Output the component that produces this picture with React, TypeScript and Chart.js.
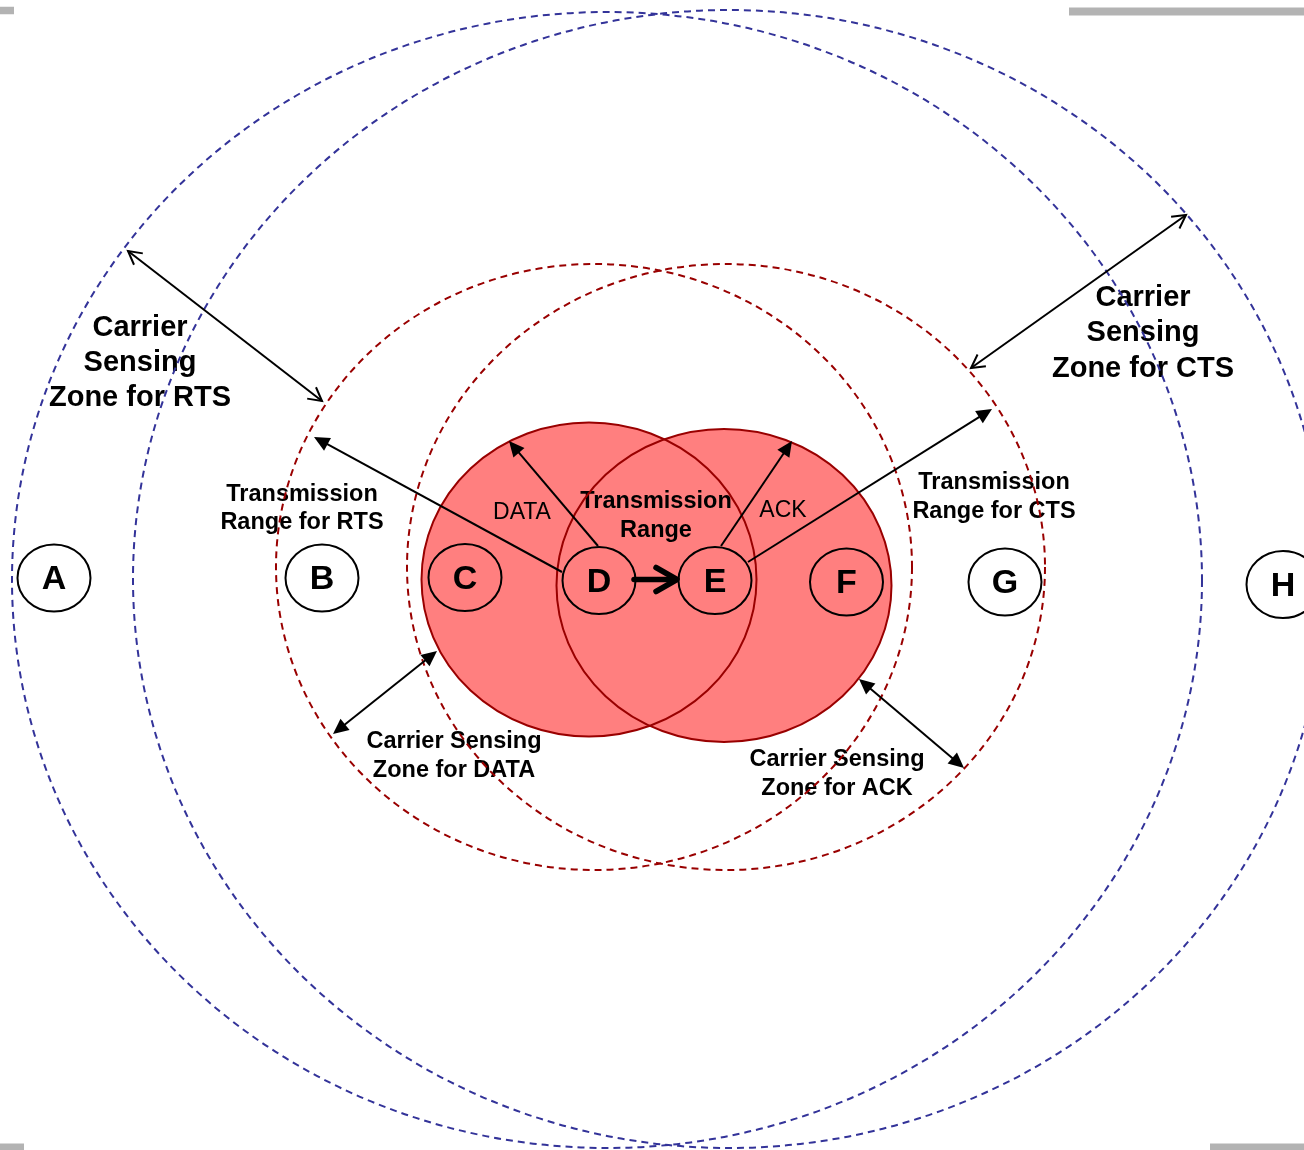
import React, { useEffect, useRef } from "react";
import { Chart, registerables } from "chart.js";

Chart.register(...registerables);

// ---- data (diagram coordinates, y grows downward) ----
const zoneNames = ["CS zone RTS", "CS zone CTS", "CS zone DATA", "CS zone ACK"];
const zoneCx = [607, 729, 594, 726];
const zoneCy = [580, 579, 567, 567];
const zoneRx = [595, 596, 318, 319];
const zoneRy = [568, 569, 303, 303];
const zoneColor = ["#333399", "#333399", "#990000", "#990000"];

const rangeNames = ["Range D", "Range E"];
const rangeCx = [589, 724];
const rangeCy = [579.5, 585.5];
const rangeRx = [167.5, 167.5];
const rangeRy = [157, 156.5];

const nodeLabels = ["A", "B", "C", "D", "E", "F", "G", "H"];
const nodeX = [54, 322, 465, 599, 715, 846.5, 1005, 1283];
const nodeY = [578, 578, 577.5, 580.5, 580.5, 582, 582, 584.5];
const nodeRx = 36.5;
const nodeRy = 33.5;

// arrows: start, end, head at start / end ("open" | "filled" | "")
const arrowX1 = [322, 971, 562, 598, 721, 748, 333, 964];
const arrowY1 = [401, 368, 572, 546, 546, 562, 734, 768];
const arrowX2 = [128, 1186, 314, 509, 792, 992, 437, 859];
const arrowY2 = [251, 215, 437, 441, 441, 409, 651, 679];
const arrowHead1 = ["open", "open", "", "", "", "", "filled", "filled"];
const arrowHead2 = ["open", "open", "filled", "filled", "filled", "filled", "filled", "filled"];

const textLines = [
  "Carrier", "Sensing", "Zone for RTS",
  "Carrier", "Sensing", "Zone for CTS",
  "Transmission", "Range for RTS",
  "Transmission", "Range for CTS",
  "Transmission", "Range",
  "DATA", "ACK",
  "Carrier Sensing", "Zone for DATA",
  "Carrier Sensing", "Zone for ACK",
];
const textX = [140, 140, 140, 1143, 1143, 1143, 302, 302, 994, 994, 656, 656, 522, 783, 454, 454, 837, 837];
const textY = [328, 363, 398, 298, 333, 369, 495, 523, 483, 512, 502, 531, 513, 511, 742, 771, 760, 789];
const textSize = [29, 29, 29, 29, 29, 29, 23.5, 23.5, 23.5, 23.5, 23.5, 23.5, 23, 23, 23.5, 23.5, 23.5, 23.5];
const textBold = [1, 1, 1, 1, 1, 1, 1, 1, 1, 1, 1, 1, 0, 0, 1, 1, 1, 1];

const barX1 = [0, 1069, 0, 1210];
const barX2 = [14, 1304, 24, 1304];
const barY = [10.5, 11.5, 1147, 1147];
const barH = [7.5, 8, 7, 7];

const FONT = '"Liberation Sans", Arial, Helvetica, sans-serif';

const diagramPlugin = {
  id: "diagram",
  afterDatasetsDraw(chart: any) {
    const ctx: CanvasRenderingContext2D = chart.ctx;
    const xs = chart.scales.x;
    const ys = chart.scales.y;
    const px = (v: number) => xs.getPixelForValue(v);
    const py = (v: number) => ys.getPixelForValue(v);
    const rx = (cx: number, r: number) => Math.abs(px(cx + r) - px(cx));
    const ry = (cy: number, r: number) => Math.abs(py(cy + r) - py(cy));

    ctx.save();

    // gray bars
    ctx.fillStyle = "#b3b3b3";
    for (let i = 0; i < barX1.length; i++) {
      const h = ry(barY[i], barH[i]);
      ctx.fillRect(px(barX1[i]), py(barY[i]) - h / 2, px(barX2[i]) - px(barX1[i]), h);
    }

    // filled transmission ranges
    ctx.fillStyle = "#ff7f7f";
    for (let i = 0; i < rangeCx.length; i++) {
      ctx.beginPath();
      ctx.ellipse(px(rangeCx[i]), py(rangeCy[i]), rx(rangeCx[i], rangeRx[i]), ry(rangeCy[i], rangeRy[i]), 0, 0, Math.PI * 2);
      ctx.fill();
    }

    // texts
    ctx.fillStyle = "#000";
    ctx.textAlign = "center";
    ctx.textBaseline = "middle";
    for (let i = 0; i < textLines.length; i++) {
      ctx.font = `${textBold[i] ? "bold " : ""}${textSize[i]}px ${FONT}`;
      ctx.fillText(textLines[i], px(textX[i]), py(textY[i]));
    }

    // range outlines
    ctx.strokeStyle = "#990000";
    ctx.lineWidth = 2;
    ctx.setLineDash([]);
    for (let i = 0; i < rangeCx.length; i++) {
      ctx.beginPath();
      ctx.ellipse(px(rangeCx[i]), py(rangeCy[i]), rx(rangeCx[i], rangeRx[i]), ry(rangeCy[i], rangeRy[i]), 0, 0, Math.PI * 2);
      ctx.stroke();
    }

    // dashed carrier sensing zones
    ctx.lineWidth = 2;
    ctx.setLineDash([7, 5]);
    for (let i = 0; i < zoneCx.length; i++) {
      ctx.strokeStyle = zoneColor[i];
      ctx.beginPath();
      ctx.ellipse(px(zoneCx[i]), py(zoneCy[i]), rx(zoneCx[i], zoneRx[i]), ry(zoneCy[i], zoneRy[i]), 0, 0, Math.PI * 2);
      ctx.stroke();
    }
    ctx.setLineDash([]);

    // nodes
    ctx.strokeStyle = "#000";
    ctx.lineWidth = 2;
    for (let i = 0; i < nodeLabels.length; i++) {
      ctx.beginPath();
      ctx.ellipse(px(nodeX[i]), py(nodeY[i]), rx(nodeX[i], nodeRx), ry(nodeY[i], nodeRy), 0, 0, Math.PI * 2);
      ctx.stroke();
      ctx.font = `bold 34px ${FONT}`;
      ctx.fillStyle = "#000";
      ctx.fillText(nodeLabels[i], px(nodeX[i]), py(nodeY[i]) + 2);
    }

    // arrow heads helper
    const head = (tx: number, ty: number, fx: number, fy: number, kind: string) => {
      if (!kind) return;
      const ang = Math.atan2(ty - fy, tx - fx);
      const len = kind === "filled" ? 17 : 15;
      const spread = kind === "filled" ? 0.44 : 0.5;
      const ax = tx - len * Math.cos(ang - spread);
      const ay = ty - len * Math.sin(ang - spread);
      const bx = tx - len * Math.cos(ang + spread);
      const by = ty - len * Math.sin(ang + spread);
      ctx.beginPath();
      if (kind === "filled") {
        ctx.moveTo(tx, ty);
        ctx.lineTo(ax, ay);
        ctx.lineTo(bx, by);
        ctx.closePath();
        ctx.fill();
      } else {
        ctx.moveTo(ax, ay);
        ctx.lineTo(tx, ty);
        ctx.lineTo(bx, by);
        ctx.stroke();
      }
    };

    ctx.strokeStyle = "#000";
    ctx.fillStyle = "#000";
    ctx.lineWidth = 2;
    for (let i = 0; i < arrowX1.length; i++) {
      const x1 = px(arrowX1[i]), y1 = py(arrowY1[i]);
      const x2 = px(arrowX2[i]), y2 = py(arrowY2[i]);
      const a = Math.atan2(y2 - y1, x2 - x1);
      const s1 = arrowHead1[i] === "filled" ? 12 : 0;
      const s2 = arrowHead2[i] === "filled" ? 12 : 0;
      ctx.beginPath();
      ctx.moveTo(x1 + s1 * Math.cos(a), y1 + s1 * Math.sin(a));
      ctx.lineTo(x2 - s2 * Math.cos(a), y2 - s2 * Math.sin(a));
      ctx.stroke();
      head(x2, y2, x1, y1, arrowHead2[i]);
      head(x1, y1, x2, y2, arrowHead1[i]);
    }

    // bold D -> E arrow
    {
      const x1 = px(634), y1 = py(579.5), x2 = px(677), y2 = py(579.5);
      ctx.lineWidth = 5.5;
      ctx.lineCap = "round";
      ctx.lineJoin = "round";
      ctx.beginPath();
      ctx.moveTo(x1, y1);
      ctx.lineTo(x2 - 2, y2);
      ctx.stroke();
      ctx.beginPath();
      ctx.moveTo(x2 - 21, y2 - 12);
      ctx.lineTo(x2, y2);
      ctx.lineTo(x2 - 21, y2 + 12);
      ctx.stroke();
      ctx.lineCap = "butt";
    }

    ctx.restore();
  },
};

export default function App() {
  const ref = useRef<HTMLCanvasElement | null>(null);
  useEffect(() => {
    document.body.style.margin = "0";
    const canvas = ref.current;
    if (!canvas) return;
    const chart = new Chart(canvas, {
      type: "scatter",
      data: {
        datasets: [
          {
            label: "nodes",
            data: nodeX.map((x, i) => ({ x, y: nodeY[i] })),
            pointRadius: 0,
            showLine: false,
          },
        ],
      },
      options: {
        responsive: false,
        animation: false,
        devicePixelRatio: 1,
        layout: { padding: 0 },
        plugins: { legend: { display: false }, tooltip: { enabled: false } },
        scales: {
          x: { type: "linear", min: 0, max: 1304, display: false },
          y: { type: "linear", min: 0, max: 1150, reverse: true, display: false },
        },
      },
      plugins: [diagramPlugin],
    });
    return () => chart.destroy();
  }, []);
  return (
    <div style={{ width: 1304, height: 1150, background: "#fff" }}>
      <canvas ref={ref} width={1304} height={1150} style={{ display: "block" }} />
    </div>
  );
}
